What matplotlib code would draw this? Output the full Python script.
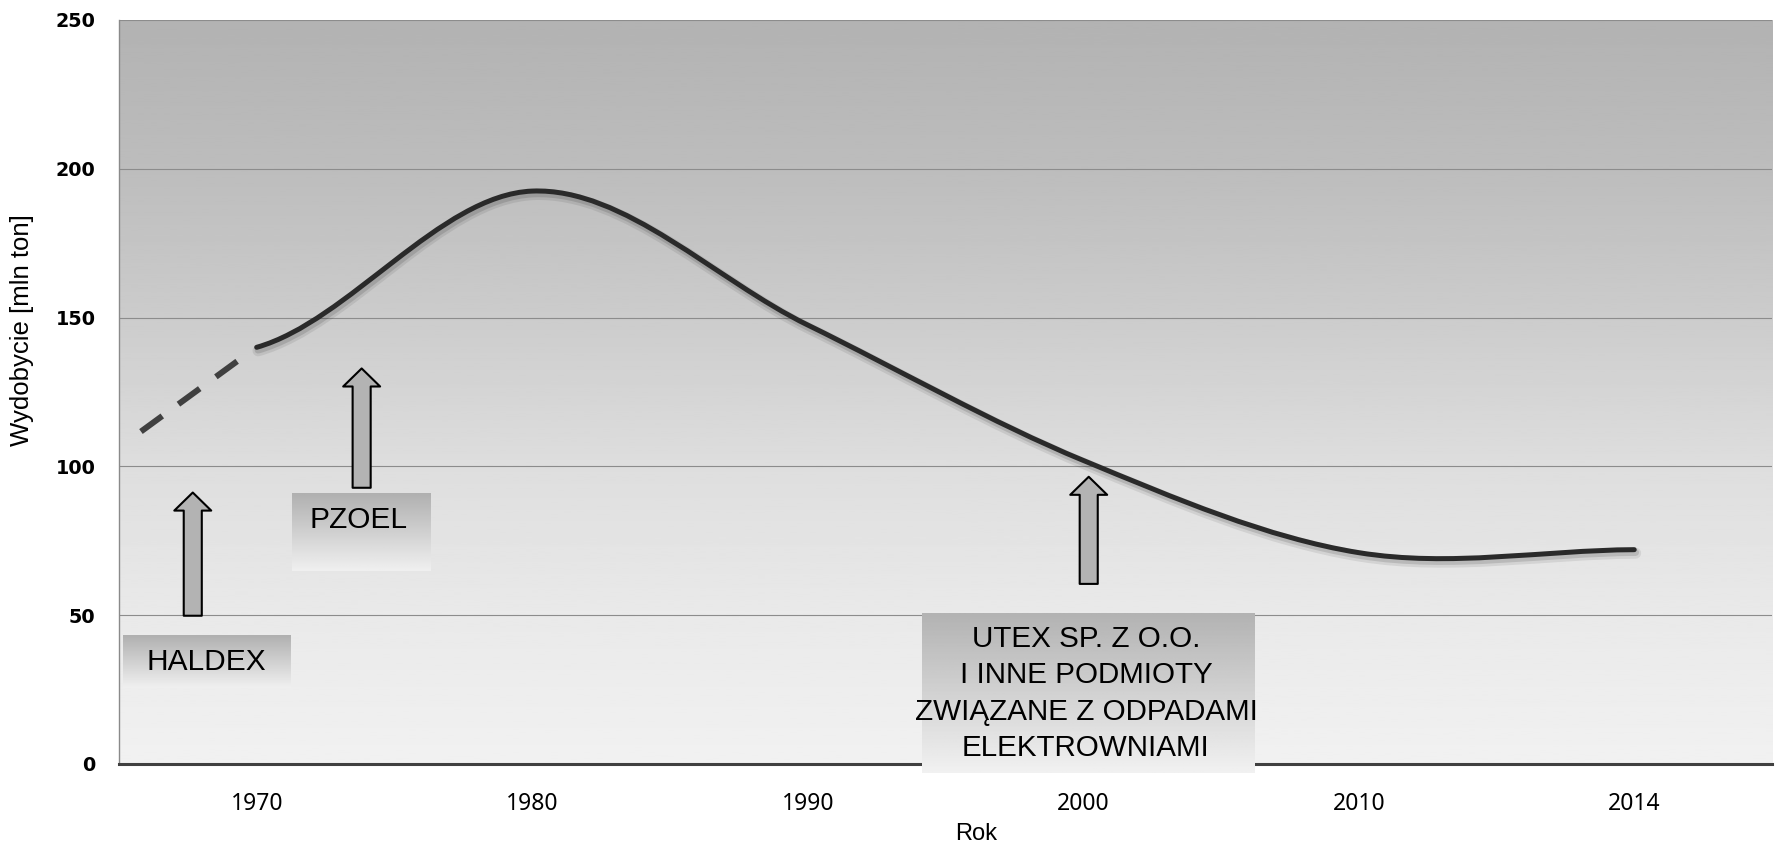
import numpy as np
import matplotlib.pyplot as plt
from matplotlib.path import Path
from matplotlib.patches import PathPatch
import matplotlib.patheffects as pe

# dane
lata = ['1970', '1980', '1990', '2000', '2010', '2014']
wydobycie = [140, 192.5, 147.5, 102, 71, 72]

# przerywany odcinek przed 1970 (pozycje na osi kategorii)
trend_x = [-0.42, -0.071]
trend_y = [111.7, 135.3]

podpisy = ['HALDEX', 'PZOEL',
           'UTEX SP. Z O.O.\nI INNE PODMIOTY\nZWIĄZANE Z ODPADAMI\nELEKTROWNIAMI']

yticks = [0, 50, 100, 150, 200, 250]

plt.rcParams['lines.scale_dashes'] = False

fig = plt.figure(figsize=(17.75, 8.46), dpi=100)
ax = fig.add_axes([0.067, 0.097, 0.9313, 0.8794])

ax.set_xlim(-0.5, 5.5)
ax.set_ylim(0, 250)

# tlo z gradientem
lev = np.linspace(0, 250, 256)
shade = np.interp(lev, [0, 50, 100, 150, 200, 250],
                  [0.945, 0.915, 0.87, 0.80, 0.74, 0.70])
ax.imshow(shade[:, None], cmap='gray', vmin=0, vmax=1, origin='lower',
          extent=(-0.5, 5.5, 0, 250), aspect='auto', zorder=0)

ax.set_yticks(yticks)
ax.set_xticks(range(len(lata)))
ax.set_xticklabels(lata)
ax.grid(axis='y', color='#8c8c8c', lw=0.8)
ax.set_axisbelow(True)
ax.tick_params(length=0)
ax.tick_params(axis='y', pad=17)
ax.tick_params(axis='x', pad=20)
for t in ax.get_yticklabels():
    t.set_fontfamily('DejaVu Sans')
    t.set_fontsize(13.8)
    t.set_fontweight('bold')
for t in ax.get_xticklabels():
    t.set_fontfamily('Noto Sans')
    t.set_fontsize(16.5)

for s in ['top', 'right']:
    ax.spines[s].set_visible(False)
ax.spines['left'].set_color('#8a8a8a')
ax.spines['left'].set_linewidth(1)
ax.spines['bottom'].set_color('#404040')
ax.spines['bottom'].set_linewidth(2.2)

ax.set_ylabel('Wydobycie [mln ton]', family='Liberation Sans', fontsize=18.5)
ax.yaxis.set_label_coords(-0.0514, 0.583)
ax.set_xlabel('Rok', family='Liberation Sans', fontsize=17)
ax.xaxis.set_label_coords(0.5185, -0.079)

# wygladzona linia (Bezier jak w Excelu)
x = np.arange(len(wydobycie), dtype=float)
y = np.array(wydobycie, dtype=float)
m = np.zeros_like(y)
m[1:-1] = (y[2:] - y[:-2]) / 2
m[0] = (y[1] - y[0]) / 2
m[-1] = (y[-1] - y[-2]) / 2
verts = [(x[0], y[0])]
codes = [Path.MOVETO]
for i in range(len(x) - 1):
    verts += [(x[i] + 1 / 3, y[i] + m[i] / 3),
              (x[i + 1] - 1 / 3, y[i + 1] - m[i + 1] / 3),
              (x[i + 1], y[i + 1])]
    codes += [Path.CURVE4] * 3
linia = PathPatch(Path(verts, codes), fill=False, edgecolor='#2a2a2a',
                  lw=3.6, capstyle='round', zorder=4)
linia.set_path_effects([
    pe.SimpleLineShadow(offset=(1, -2.5), shadow_color='k', alpha=0.08, linewidth=8),
    pe.SimpleLineShadow(offset=(1, -2), shadow_color='k', alpha=0.12, linewidth=5),
    pe.Normal()])
ax.add_patch(linia)

ax.plot(trend_x, trend_y, color='#404040', lw=4.3, dashes=(19, 14.4),
        solid_capstyle='butt', zorder=4)

# ramki z podpisami
def ramka(x0, x1, y0, y1, top, bottom, clip=True):
    g = np.linspace(bottom, top, 100)[:, None]
    ax.imshow(g, cmap='gray', vmin=0, vmax=1, origin='lower',
              extent=(x0, x1, y0, y1), aspect='auto', zorder=3,
              clip_on=clip)

ramka(-0.486, 0.123, 25.6, 43.4, 0.69, 0.94)
ramka(0.127, 0.631, 64.9, 90.8, 0.69, 0.94)
ramka(2.415, 3.622, -3.0, 50.5, 0.70, 0.945, clip=False)

ax.text(-0.183, 34.3, podpisy[0], ha='center', va='center',
        family='Liberation Sans', fontsize=21.5, zorder=5)
ax.text(0.370, 82.1, podpisy[1], ha='center', va='center',
        family='Liberation Sans', fontsize=21.5, zorder=5)
ax.text(3.01, 23.7, podpisy[2], ha='center', va='center',
        family='Liberation Sans', fontsize=21.3, linespacing=1.38, zorder=5)

# strzalki
strzalki = [(-0.232, 49.8, 91.2), (0.381, 92.8, 132.9), (3.02, 60.5, 96.5)]
for xs, y0, y1 in strzalki:
    ax.annotate('', xy=(xs, y1), xytext=(xs, y0),
                arrowprops=dict(arrowstyle='simple,head_length=1.3,head_width=2.66,tail_width=1.3',
                                mutation_scale=10, fc='#b3b3b3', ec='black',
                                lw=1.5, shrinkA=0, shrinkB=0),
                zorder=5)

fig.savefig('out.png', dpi=100)
